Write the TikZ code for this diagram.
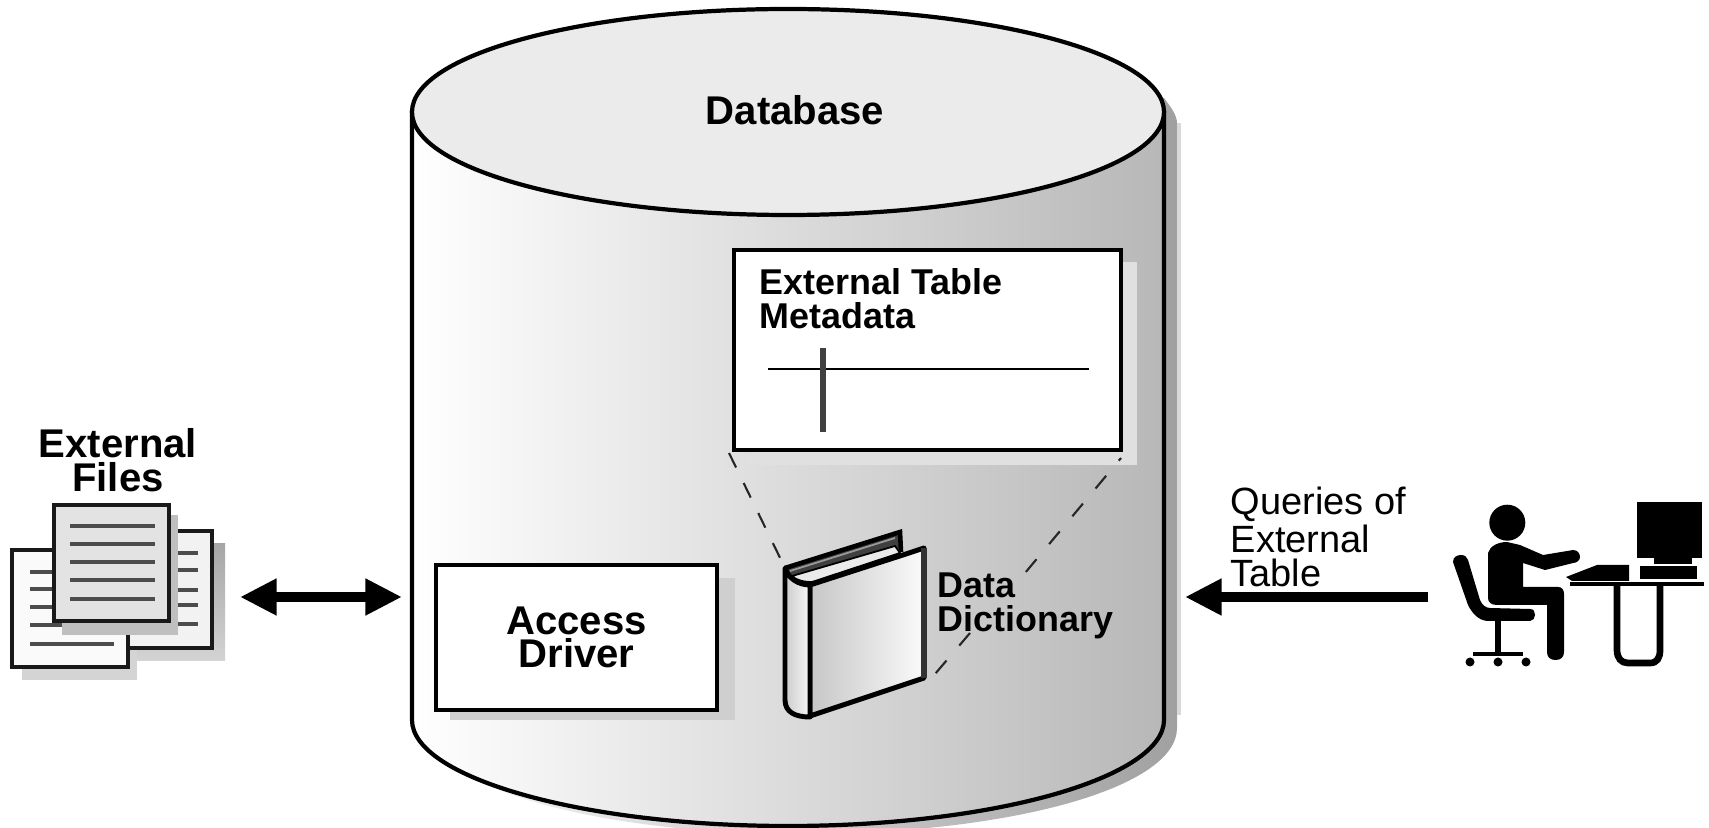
\documentclass[tikz,border=0pt]{standalone}
\usepackage{fontspec}
\setmainfont{Liberation Sans}
\usetikzlibrary{arrows.meta}
\tikzset{
  x=0.01cm,y=-0.01cm,
  lbl/.style={inner sep=0pt,font=\fontsize{10.8}{9.6}\selectfont,align=left},
  lblb/.style={inner sep=0pt,font=\fontsize{11.4}{9.6}\selectfont\bfseries,align=left},
  lblc/.style={inner sep=0pt,font=\fontsize{10.2}{9.6}\selectfont\bfseries,align=left},
  outline/.style={draw=black,line width=1.2pt},
  guidel/.style={draw=black!85,line width=0.6pt,dash pattern=on 4.6pt off 4.9pt},
  guider/.style={draw=black!85,line width=0.6pt,dash pattern=on 4.7pt off 5.6pt},
  bigarrow/.style={line width=2.8pt,draw=black,arrows={-Triangle[length=10.4pt,width=9.8pt]}},
  bigarrows/.style={line width=2.8pt,draw=black,arrows={Triangle[length=10.4pt,width=9.8pt]-Triangle[length=10.4pt,width=9.8pt]}},
  paper/.style={draw=black!90,line width=1.1pt},
  rulea/.style={draw=black!70,line width=0.9pt},
  ink/.style={fill=black,draw=none},
}
\begin{document}
\begin{tikzpicture}
\useasboundingbox (0,0) rectangle (1709,828);
\fill[white] (0,0) rectangle (1709,828);
% cylinder shadow
\shade[left color=black!3,right color=black!37]
  (430,123) -- (1164,98) .. controls (1170,106) and (1177,115) .. (1177,123) -- (1177,728) .. controls (1177,788) and (1010,834) .. (800,834)
  .. controls (600,834) and (430,788) .. (430,728) -- cycle;
\fill[black!15] (1177,123) rectangle (1181,715);
% cylinder body
\shade[left color=white,middle color=black!13,right color=black!28,outline]
  (412,112) -- (412,720) .. controls (412,777) and (580,826) .. (788,826)
  .. controls (996,826) and (1164,777) .. (1164,720) -- (1164,112) -- cycle;
% cylinder top
\filldraw[fill=black!8,outline] (788,112) ellipse [x radius=376,y radius=103];
\node[lblb] (database) at (795,110) {Database};
% metadata box
\fill[black!12] (746,262) rectangle (1137,465);
\node[fill=white,outline,inner sep=0pt,minimum width=3.87cm,minimum height=2cm,anchor=north west] (metabox) at (731.5,248) {};
\node[lblc,anchor=west] (metatext) at (759,299) {External Table\\Metadata};
\coordinate (hl) at (768,369); \coordinate (hr) at (1089,369);
\coordinate (vt) at (823,348); \coordinate (vb) at (823,432);
\draw[draw=black,line width=0.7pt] (hl) -- (hr);
\draw[draw=black!75,line width=1.6pt] (vt) -- (vb);
% access driver
\fill[black!19] (450,578) rectangle (735,720);
\node[lblb,align=center,fill=white,outline,minimum width=2.81cm,minimum height=1.45cm] (access) at (576.5,637.5) {Access\\Driver};
% guides
\coordinate (gl1) at (729,453); \coordinate (gl2) at (784,566);
\coordinate (gr1) at (1121,458); \coordinate (gr2) at (1025,573);
\coordinate (gr3) at (970,633); \coordinate (gr4) at (935,674);
\draw[guidel] (gl1) -- (gl2);
\draw[guider,dash phase=3.7pt] (gr1) -- (gr2);
\draw[guider] (gr3) -- (gr4);
% book
\fill[black!75] (785,568) -- (900,531) -- (901,552) -- (812,586) -- (790,580) -- cycle;
\draw[draw=black,line width=1.3pt] (785,568) -- (900,532) -- (901,552);
\draw[draw=black!40,line width=0.5pt] (790,571) -- (895,538);
\shade[left color=black!22,right color=black!2,draw=black,line width=1.4pt,line join=round] (810,585) -- (903,555) -- (924,548) -- (924,678) -- (810,716) -- cycle;
\draw[draw=black!80,line width=1.8pt] (924,548) -- (924,678);
\shade[left color=black!20,right color=black!3,draw=black,line width=1.4pt,line join=round] (785,568) .. controls (788,578) and (798,585) .. (810,585) -- (810,717) .. controls (795,717) and (785,712) .. (785,700) -- cycle;
\filldraw[fill=black!8,draw=black,line width=0.5pt] (792,576) -- (895,546) -- (900,553) -- (812,582) .. controls (803,582) and (796,580) .. (792,576) -- cycle;
\node[lblc,anchor=west] (dict) at (937,606) {Data\\Dictionary};
% external files
\shade[top color=black!35,bottom color=black!17] (115,544) rectangle (225,661);
\fill[black!17] (22,560) rectangle (137,680);
\filldraw[fill=black!5,paper] (100,531) rectangle (212,648);
\foreach \yy in {553,570,590,605,624} \draw[rulea] (150,\yy) -- (198,\yy);
\filldraw[fill=black!2,paper] (12,550) rectangle (128,667);
\foreach \yy in {572,589,607} \draw[rulea] (30,\yy) -- (80,\yy);
\draw[rulea] (30,625) -- (114,625);
\draw[rulea] (30,644) -- (114,644);
\fill[black!25] (62,515) rectangle (178,635);
\node[paper,fill=black!11,inner sep=0pt,minimum width=1.15cm,minimum height=1.16cm] (front) at (111.5,563) {};
\foreach \yy in {526,544,562,580,599} \draw[rulea] (70,\yy) -- (155,\yy);
\node[lblb,align=center] (files) at (118,460) {External\\Files};
% double arrow
\coordinate (dl) at (240,597); \coordinate (dr) at (402,597);
\draw[bigarrows] (dl) -- (dr);
% queries arrow
\coordinate (ql) at (1185,597); \coordinate (qr) at (1428,597);
\draw[bigarrow] (qr) -- (ql);
\node[lbl,anchor=west] (queries) at (1230,537) {Queries of\\External\\Table};
% person
\fill[ink] (1507.3,522.7) circle [radius=18];
\fill[ink] (1488,598) -- (1488,553) .. controls (1490,546) and (1498,542) .. (1507,542)
  -- (1520,545) -- (1543,555) -- (1573,550) .. controls (1578,550) and (1580,554) .. (1580,557)
  .. controls (1580,560) and (1577,563) .. (1573,563) -- (1545,570) -- (1523,563) -- (1523,587)
  -- (1558,587) .. controls (1562,587) and (1564,590) .. (1564,594) -- (1564,652)
  .. controls (1564,657) and (1561,660) .. (1555.5,660) .. controls (1550,660) and (1547,657) .. (1547,652)
  -- (1547,605) -- (1497,605) .. controls (1491,605) and (1488,602) .. (1488,598) -- cycle;
% chair
\fill[ink] (1453,562) .. controls (1453,557) and (1457,555) .. (1461,555)
  .. controls (1465,555) and (1467,557) .. (1468,560) -- (1480,600) .. controls (1482,605) and (1486,608) .. (1490,608)
  -- (1530,609) .. controls (1534,609) and (1535,612) .. (1535,615) .. controls (1535,618) and (1533,621) .. (1530,621)
  -- (1487,621) .. controls (1478,620) and (1472,613) .. (1468,605) -- cycle;
\draw[draw=black,line width=1.7pt] (1498,620) -- (1498,652);
\draw[draw=black,line width=1.2pt] (1473,654) -- (1523,654);
\fill[ink] (1470,662) circle [radius=4.5];
\fill[ink] (1498,662) circle [radius=4.5];
\fill[ink] (1526,662) circle [radius=4.5];
% desk
\draw[draw=black,line width=1.4pt] (1570,584) -- (1704,584);
\draw[draw=black,line width=1.9pt] (1617,585) -- (1617,650) .. controls (1617,658) and (1621,663) .. (1628,663) -- (1650,663) .. controls (1657,663) and (1660,658) .. (1660,650) -- (1660,585);
\fill[ink] (1566,577) -- (1597,565) -- (1629,565) -- (1629,581) -- (1572,581) -- cycle;
\fill[ink] (1640,566) rectangle (1697,579);
\fill[ink] (1637,502) rectangle (1702,558);
\fill[ink] (1654,558) rectangle (1692,564);
\end{tikzpicture}
\end{document}
